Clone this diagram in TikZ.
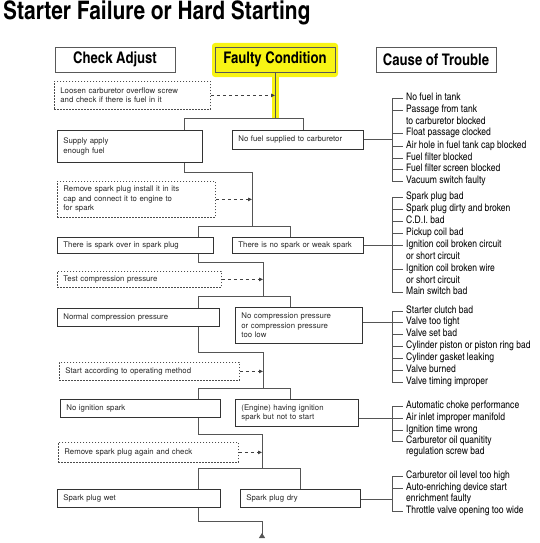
\documentclass[tikz,border=0pt]{standalone}
\usepackage{fontspec}
\setmainfont{TeX Gyre Heros}
\newfontfamily\cnfont{texgyreheroscn}[Extension=.otf, UprightFont=*-regular, BoldFont=*-bold]
\usetikzlibrary{arrows.meta}
\definecolor{hiYellow}{RGB}{248,244,20}
\definecolor{lineGray}{RGB}{85,85,85}

\begin{document}
\begin{tikzpicture}[x=1pt, y=-1pt,
    head/.style={rectangle, draw=black!65, line width=0.9pt, minimum width=120pt,
                 minimum height=25pt, inner sep=0pt, font=\cnfont\bfseries\fontsize{16}{18}\selectfont},
    cond/.style={rectangle, draw=black!80, line width=0.8pt, anchor=north west, align=left,
                 inner xsep=6pt, inner ysep=0pt, text=black!85, font=\fontsize{7.8}{9.6}\selectfont},
    check/.style={cond, draw=black!70, dash pattern=on 1.2pt off 1.8pt},
    cause/.style={anchor=west, inner sep=1pt, text height=7.5pt, text depth=2pt,
                  font=\cnfont\fontsize{10.4}{12}\selectfont},
    flow/.style={draw=lineGray, line width=1pt},
    hint/.style={draw=black!75, line width=0.8pt, dash pattern=on 3pt off 3pt,
                 -{Triangle[length=4pt,width=3.5pt]}}
  ]
  \useasboundingbox (0,0) rectangle (540,543);
  \node[anchor=west, inner sep=0pt, font=\cnfont\bfseries\fontsize{25.5}{28}\selectfont] (title) at (3,13)
    {Starter Failure or Hard Starting};

  % headers
  \fill[hiYellow, rounded corners=3pt] (212,43) rectangle (338,77);
  \draw[hiYellow, line width=7pt] (275,72) -- (275,118);
  \node[head] (chk) at (115,59.5) {Check Adjust};
  \node[head, fill=hiYellow] (fc) at (275,59.5) {Faulty Condition};
  \node[head] (cot) at (436,59.5) {Cause of Trouble};

  % check / adjust boxes
  \node[check, text width=144pt, minimum height=28pt] (d1) at (54,81)
    {Loosen carburetor overflow screw\\and check if there is fuel in it};
  \node[check, text width=146pt, minimum height=36pt] (d2) at (57,181)
    {Remove spark plug install it in its\\cap and connect it to engine to\\for spark};
  \node[check, text width=152pt, minimum height=16pt] (d3) at (57,271) {Test compression pressure};
  \node[check, text width=168pt, minimum height=18pt] (d4) at (59,362) {Start according to operating method};
  \node[check, text width=168pt, minimum height=20pt] (d5) at (58,442) {Remove spark plug again and check};

  % faulty conditions
  \node[cond, text width=133pt, minimum height=32pt] (sup) at (57,130) {Supply apply\\enough fuel};
  \node[cond, text width=119pt, minimum height=19pt] (nofuel) at (232,130) {No fuel supplied to carburetor};
  \node[cond, text width=144pt, minimum height=16pt] (spk) at (57,237) {There is spark over in spark plug};
  \node[cond, text width=119pt, minimum height=16pt] (nospk) at (232,237) {There is no spark or weak spark};
  \node[cond, text width=150pt, minimum height=18pt] (normal) at (57,308) {Normal compression pressure};
  \node[cond, text width=115pt, minimum height=36pt] (nocomp) at (235,307)
    {No compression pressure\\or compression pressure\\too low};
  \node[cond, text width=148pt, minimum height=18pt] (noign) at (60,399) {No ignition spark};
  \node[cond, text width=111pt, minimum height=27pt] (engine) at (235,399)
    {(Engine) having ignition\\spark but not to start};
  \node[cond, text width=151pt, minimum height=18pt] (wet) at (57,489) {Spark plug wet};
  \node[cond, text width=108pt, minimum height=18pt] (dry) at (240,489) {Spark plug dry};

  % main flow
  \coordinate (s1) at (275,118);
  \coordinate (l1) at (184,118);
  \coordinate (r1) at (303,118);
  \draw[flow] (fc.south) -- (s1);
  \draw[flow] (sup.north -| l1) -- (l1) -- (r1) -- (r1 |- nofuel.north);
  \draw[hint] (d1.east) -- (d1.east -| s1);

  \coordinate (k2) at (252,172);
  \coordinate (s2) at (252,226);
  \coordinate (l2) at (198,226);
  \coordinate (r2) at (290,226);
  \draw[flow] (sup.south -| l1) |- (k2) -- (s2);
  \draw[flow] (spk.north -| l2) -- (l2) -- (r2) -- (r2 |- nospk.north);
  \draw[hint] (d2.east) -- (d2.east -| s2);

  \coordinate (k3) at (263,262);
  \coordinate (s3) at (263,296);
  \coordinate (l3) at (198,296);
  \coordinate (r3) at (290,296);
  \draw[flow] (spk.south -| l2) |- (k3) -- (s3);
  \draw[flow] (normal.north -| l3) -- (l3) -- (r3) -- (r3 |- nocomp.north);
  \draw[hint] (d3.east) -- (d3.east -| s3);

  \coordinate (k4) at (263,352);
  \coordinate (s4) at (263,388);
  \coordinate (l4) at (198,388);
  \coordinate (r4) at (290,388);
  \draw[flow] (normal.south -| l3) |- (k4) -- (s4);
  \draw[flow] (noign.north -| l4) -- (l4) -- (r4) -- (r4 |- engine.north);
  \draw[hint] (d4.east) -- (d4.east -| s4);

  \coordinate (k5) at (262,434);
  \coordinate (s5) at (262,468);
  \coordinate (l5) at (198,468);
  \coordinate (r5) at (300,468);
  \draw[flow] (noign.south -| l4) |- (k5) -- (s5);
  \draw[flow] (wet.north -| l5) -- (l5) -- (r5) -- (r5 |- dry.north);
  \draw[hint] (d5.east) -- (d5.east -| s5);

  \coordinate (k6) at (262,521);
  \coordinate (fin) at (262,538);
  \draw[flow, -{Triangle[reversed, length=5pt, width=6pt]}] (wet.south -| l5) |- (k6) -- (fin);

  % causes of trouble
  \coordinate (br) at (392,0);
  \node[cause] (a1) at (405,98) {No fuel in tank};
  \node[cause] (a2) at (405,110) {Passage from tank};
  \node[cause] (a3) at (405,122) {to carburetor blocked};
  \node[cause] (a4) at (405,133) {Float passage clocked};
  \node[cause] (a5) at (405,146) {Air hole in fuel tank cap blocked};
  \node[cause] (a6) at (405,158) {Fuel filter blocked};
  \node[cause] (a7) at (405,169) {Fuel filter screen blocked};
  \node[cause] (a8) at (405,181) {Vacuum switch faulty};
  \foreach \n in {a1,a2,a4,a5,a6,a7,a8}
    \draw[flow, line width=0.8pt, shorten >=2pt] (\n.west -| br) -- (\n.west);
  \draw[flow, line width=0.8pt] (a1.west -| br) -- (a8.west -| br);
  \draw[flow] (nofuel.east) -- (nofuel.east -| br);

  \node[cause] (b1) at (405,197) {Spark plug bad};
  \node[cause] (b2) at (405,209) {Spark plug dirty and broken};
  \node[cause] (b3) at (405,221) {C.D.I. bad};
  \node[cause] (b4) at (405,233) {Pickup coil bad};
  \node[cause] (b5) at (405,245) {Ignition coil broken circuit};
  \node[cause] (b6) at (405,257) {or short circuit};
  \node[cause] (b7) at (405,269) {Ignition coil broken wire};
  \node[cause] (b8) at (405,281) {or short circuit};
  \node[cause] (b9) at (405,292) {Main switch bad};
  \foreach \n in {b1,b2,b3,b4,b5,b7,b9}
    \draw[flow, line width=0.8pt, shorten >=2pt] (\n.west -| br) -- (\n.west);
  \draw[flow, line width=0.8pt] (b1.west -| br) -- (b9.west -| br);
  \draw[flow] (nospk.east |- b5.west) -- (b5.west -| br);

  \node[cause] (c1) at (405,311) {Starter clutch bad};
  \node[cause] (c2) at (405,322) {Valve too tight};
  \node[cause] (c3) at (405,334) {Valve set bad};
  \node[cause] (c4) at (405,346) {Cylinder piston or piston ring bad};
  \node[cause] (c5) at (405,358) {Cylinder gasket leaking};
  \node[cause] (c6) at (405,370) {Valve burned};
  \node[cause] (c7) at (405,382) {Valve timing improper};
  \foreach \n in {c1,c2,c3,c4,c5,c6,c7}
    \draw[flow, line width=0.8pt, shorten >=2pt] (\n.west -| br) -- (\n.west);
  \draw[flow, line width=0.8pt] (c1.west -| br) -- (c7.west -| br);
  \draw[flow] (nocomp.east |- c2.west) -- (c2.west -| br);

  \node[cause] (e1) at (405,406) {Automatic choke performance};
  \node[cause] (e2) at (405,418) {Air inlet improper manifold};
  \node[cause] (e3) at (405,430) {Ignition time wrong};
  \node[cause] (e4) at (405,441) {Carburetor oil quanitity};
  \node[cause] (e5) at (405,452) {regulation screw bad};
  \foreach \n in {e1,e2,e3,e4}
    \draw[flow, line width=0.8pt, shorten >=2pt] (\n.west -| br) -- (\n.west);
  \draw[flow, line width=0.8pt] (e1.west -| br) -- (e4.west -| br);
  \draw[flow] (engine.east |- e2.west) -- (e2.west -| br);

  \node[cause] (f1) at (405,476) {Carburetor oil level too high};
  \node[cause] (f2) at (405,488) {Auto-enriching device start};
  \node[cause] (f3) at (405,499) {enrichment faulty};
  \node[cause] (f4) at (405,511) {Throttle valve opening too wide};
  \foreach \n in {f1,f2,f4}
    \draw[flow, line width=0.8pt, shorten >=2pt] (\n.west -| br) -- (\n.west);
  \draw[flow, line width=0.8pt] (f1.west -| br) -- (f4.west -| br);
  \draw[flow] (dry.east |- f3.west) -- (f3.west -| br);
\end{tikzpicture}
\end{document}
